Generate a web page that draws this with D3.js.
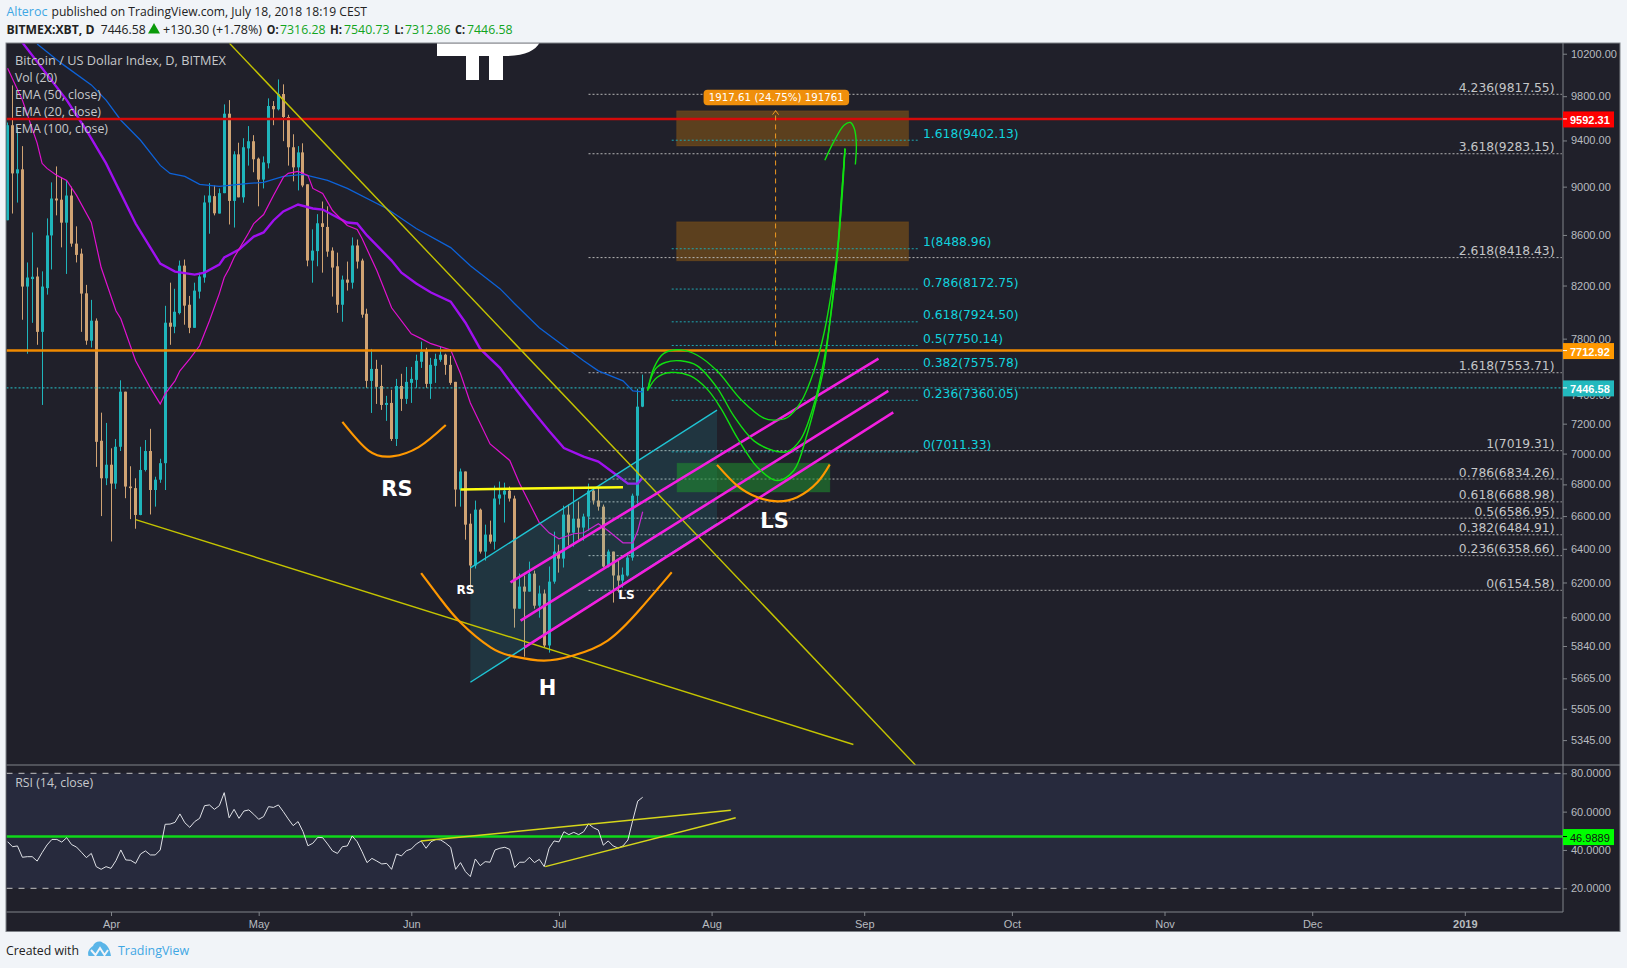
<!DOCTYPE html>
<html><head><meta charset="utf-8">
<script src="https://cdn.jsdelivr.net/npm/d3@7"></script>
<style>html,body{margin:0;padding:0;background:#f1f4f8;overflow:hidden}svg{display:block}</style>
</head><body><svg id="c" width="1627" height="968"></svg>
<script>
// ---- candles: daily, first bar 2018-03-11, indices run -21..108 relative to 2018-04-01
const firstDay = -21;
const open = [8720,9536,9113,9148,8192,8250,8270,7850,8180,8596,
8900,8890,8700,8925,8530,8450,8140,7785,7933,7085,
6839,6927,6805,7045,7420,6786,6776,6607,6893,7017,
6764,6830,6937,7918,7888,7990,8355,8053,7880,8153,
8262,8867,8920,8775,8945,9640,8880,9278,8910,9330,
9393,9240,9060,9200,9710,9680,9820,9610,9340,9165,
9295,9020,8395,8470,8695,8665,8474,8350,8053,8246,
8222,8515,8395,7985,7496,7581,7460,7328,7342,7097,
7460,7370,7482,7503,7632,7711,7475,7603,7646,7683,
7610,7489,6767,6883,6553,6300,6640,6383,6486,6443,
6710,6735,6760,6710,6049,6176,6147,6252,6066,6136,
5843,6205,6383,6341,6609,6498,6584,6529,6597,6760,
6697,6659,6294,6383,6241,6211,6241,6347,6728,7316.28];
const high = [9560,9900,9518,9350,8380,8620,8340,8310,8735,9036,
9173,9080,9053,9000,8670,8490,8205,8090,7950,7275,
7205,7035,7097,7500,7420,6917,6839,7045,7090,7165,
6849,6966,8045,8222,8175,8395,8403,8120,8222,8300,
8926,9030,9010,8985,9725,9764,9305,9380,9420,9528,
9447,9250,9260,9780,9755,9956,9910,9630,9455,9350,
9375,9020,8645,8770,8875,8835,8500,8458,8277,8387,
8580,8563,8410,8023,7725,7646,7610,7391,7433,7510,
7546,7595,7595,7683,7778,7733,7660,7690,7740,7690,
7675,7489,6902,6883,6615,6697,6647,6547,6572,6792,
6818,6811,6786,6728,6252,6241,6323,6270,6182,6159,
6294,6504,6425,6665,6672,6779,6691,6615,6805,6779,
6779,6672,6395,6383,6329,6288,6377,6741,7440,7540.73];
const low = [8720,8775,8866,7940,7690,7917,7755,7328,8130,8325,
8760,8500,8290,8505,8380,7850,7755,7735,6913,6600,
6795,6444,6771,7017,6712,6581,6522,6605,6883,6610,
6659,6810,6764,7755,7840,7980,7903,7840,7880,8100,
8222,8610,8760,8775,8945,8685,8660,8910,8865,9180,
9123,8835,8985,9156,9536,9670,9394,9180,9045,8968,
8995,8350,8222,8350,8300,8425,8115,7992,7925,8161,
8176,8332,7955,7447,7273,7335,7294,7219,7084,7050,
7287,7335,7342,7447,7588,7447,7370,7482,7632,7539,
7468,6659,6659,6455,6153,6282,6371,6329,6431,6395,
6672,6560,6691,5942,6049,5782,6147,6049,5998,5832,
5804,6193,6258,6288,6419,6413,6455,6449,6510,6672,
6634,6288,6288,6084,6142,6170,6235,6329,6678,7312.86];
const close = [9536,9113,9148,8192,8262,8268,7850,8192,8596,8900,
8884,8700,8925,8530,8440,8138,7785,7933,7078,6839,
6927,6805,7045,7420,6786,6776,6607,6893,7017,6764,
6830,6937,7918,7888,8000,8355,8046,7880,8161,8270,
8867,8925,8777,8945,9640,8880,9278,8910,9340,9393,
9235,9060,9208,9710,9680,9820,9610,9340,9165,9295,
9010,8395,8474,8695,8665,8466,8340,8053,8246,8222,
8515,8387,7978,7496,7581,7454,7328,7342,7097,7460,
7370,7489,7510,7639,7704,7475,7610,7653,7683,7610,
7482,6767,6883,6547,6300,6640,6383,6486,6443,6710,
6735,6760,6710,6049,6176,6147,6252,6066,6136,5843,
6205,6383,6341,6609,6498,6584,6529,6597,6760,6697,
6659,6294,6383,6241,6211,6246,6347,6728,7316.28,7446.58];

// ---- moving averages: [day since 2018-04-01, price]
const ema20 = [[-21,10062],[-18,9764],[-15,9376],[-14,9200],[-13,9156],[-11,9096],[-9,9053],[-7,8926],[-4,8702],[-2,8340],[1,8008],[2,7948],[5,7639],[8,7447],[10,7335],[11,7405],[13,7496],[14,7567],[16,7653],[18,7748],[20,7933],[22,8138],[23,8262],[24,8332],[25,8419],[28,8620],[29,8693],[31,8767],[33,8926],[35,9079],[36,9113],[38,9130],[40,9096],[41,8985],[43,8943],[45,8800],[48,8677],[50,8644],[51,8571],[54,8316],[57,8030],[61,7836],[63,7800],[65,7763],[69,7718],[71,7546],[73,7342],[77,7064],[81,6955],[83,6805],[87,6560],[89,6497],[91,6460],[94,6491],[96,6497],[99,6552],[101,6509],[104,6436],[106,6436],[107,6509],[108,6627]];
const ema50 = [[-18,10307],[-9,9764],[-5,9491],[-1,9199],[1,9027],[2,8943],[5,8693],[8,8498],[10,8371],[13,8308],[17,8285],[19,8300],[22,8363],[23,8419],[26,8482],[29,8587],[31,8620],[33,8718],[35,8792],[38,8850],[41,8817],[43,8808],[46,8742],[48,8701],[50,8693],[52,8596],[57,8395],[59,8300],[62,8215],[65,8146],[69,8077],[72,7918],[75,7725],[79,7589],[82,7447],[86,7273],[89,7151],[92,7037],[96,6980],[99,6948],[102,6876],[105,6805],[107,6805],[108,6844]];
const ema100 = [[-15,10293],[-10,10105],[-4,9905],[-1,9764],[2,9581],[6,9402],[10,9182],[12,9113],[15,9087],[18,9019],[22,9002],[28,9027],[31,9036],[35,9087],[39,9104],[44,9053],[48,8985],[56,8817],[62,8652],[69,8498],[73,8355],[79,8176],[82,8061],[87,7880],[96,7639],[99,7567],[104,7496],[106,7426],[108,7419]];

// ---- RSI, one value per candle
const rsi = [44.3,41.7,42.1,36.2,36.5,36.5,34.2,38.6,42.6,45.5,45.5,44.1,46.4,42.8,41.5,38.8,36.0,38.2,31.3,29.9,31.3,30.4,34.4,40.0,34.8,34.6,33.0,37.9,39.5,37.4,37.4,40.0,53.4,53.5,54.4,58.8,54.2,51.8,54.8,56.5,63.1,63.5,61.2,63.1,69.9,56.8,61.2,56.5,60.3,60.9,58.6,56.0,57.4,62.6,62.2,63.5,60.0,56.2,52.7,54.8,49.6,42.2,43.5,46.6,46.4,43.1,39.5,
38.2,41.7,42.1,47.3,44.3,39.1,33.4,35.6,34.2,32.7,33.0,29.9,37.9,36.9,39.6,40.5,43.1,44.7,40.9,44.3,45.5,45.2,43.5,41.4,29.9,33.4,28.7,26.1,35.3,31.8,33.9,33.6,40.0,40.9,41.4,40.3,30.8,33.6,33.6,36.2,33.4,35.1,31.3,40.9,44.7,44.2,49.5,48.0,49.2,48.0,49.5,53.6,51.6,50.4,42.5,44.7,42.1,41.0,42.1,45.2,55.6,65.5,67.5];
const rsiTrendA = [[62.95,44.7],[125.9,60.7]];
const rsiTrendB = [[88.2,31.3],[126.9,56.8]];

// ---- axis ticks
const priceTicks = [10200,9800,9400,9000,8600,8200,7800,7400,7200,7000,6800,6600,6400,6200,6000,5840,5665,5505,5345];
const rsiTicks = [80,60,40,20];
const monthTicks = [[2018,3,"Apr"],[2018,4,"May"],[2018,5,"Jun"],[2018,6,"Jul"],[2018,7,"Aug"],[2018,8,"Sep"],[2018,9,"Oct"],[2018,10,"Nov"],[2018,11,"Dec"],[2019,0,"2019"]];

// ---- horizontal levels
const lastPrice = 7446.58, redLevel = 9592.31, orangeLevel = 7712.92, rsiLevel = 46.9889;
const fibRight = [[4.236,"4.236",9817.55],[3.618,"3.618",9283.15],[2.618,"2.618",8418.43],[1.618,"1.618",7553.71],[1,"1",7019.31],[.786,"0.786",6834.26],[.618,"0.618",6688.98],[.5,"0.5",6586.95],[.382,"0.382",6484.91],[.236,"0.236",6358.66],[0,"0",6154.58]];
const fibLeft = [["1.618",9402.13],["1",8488.96],["0.786",8172.75],["0.618",7924.50],["0.5",7750.14],["0.382",7575.78],["0.236",7360.05],["0",7011.33]];

// ---- drawings in [day, price]
const trendDown = [[24.07,10300],[163.4,5221]];
const trendWedge = [[5,6578],[150.8,5323]];
const channelTop = [[73,6286],[123.1,7292]];
const channelBottom = [[73,5644],[123.1,6552]];
const magentaLines = [[[81.15,6201],[155.9,7654]],[[83.2,5981],[157.9,7426]],[[84,5833],[158.9,7277]]];
const neckline = [[71,6768],[104,6781]];
const greenZone = [115,146,6936,6752];
const orangeZones = [[114.9,162,9666,9351],[114.9,162,8707,8393]];
const arcRS = [[47,7212],[52.3,7020],[57.1,6982],[62.5,7043],[68,7191]];
const arcH = [[63,6255],[66.9,6107],[71,5971],[77.1,5833],[81.8,5783],[87.9,5760],[93.9,5788],[100.9,5870],[107.6,6050],[113.9,6260]];
const arcLS = [[123.1,6926],[127.2,6792],[131.3,6718],[135.3,6692],[139.4,6718],[143.5,6813],[146,6928]];
const pathA = [[109,7426],[110.3,7590],[112.3,7692],[115.7,7718],[119.1,7679],[123.1,7567],[127.9,7368],[132.6,7238],[134.6,7224],[137.4,7242],[140.1,7345],[142.8,7567],[144.8,7834],[146.5,8186],[147.8,8555],[148.5,8968],[149.1,9328]];
const pathB = [[109,7433],[110.6,7581],[112.6,7627],[115.7,7639],[119.1,7603],[123.1,7449],[126.5,7253],[130.6,7084],[134.6,7020],[137.4,7013],[140.1,7095],[142.8,7333],[144.8,7639],[146.6,8084],[147.8,8555],[148.6,8968],[149.1,9328]];
const pathC = [[109.2,7440],[110.9,7520],[113.6,7555],[117.7,7531],[121.1,7438],[123.8,7310],[127.2,7106],[131.3,6910],[135.3,6824],[138.7,6889],[141.4,7129],[143.4,7379],[144.8,7590],[146.4,8046],[147.4,8395],[148.4,8926],[149.1,9328]];
const pathHook = [[145,9226],[146.8,9387],[148.9,9536],[150.2,9560],[151,9505],[151.4,9369],[151.2,9190]];
const measure = {day:135, from:7750.14, to:9667.75, label:"1917.61 (24.75%) 191761"};
const patternLabels = [["RS",58.1,6768,21],["H",88.7,5616,21],["LS",134.8,6572,21],["RS",72,6159,12],["LS",104.7,6130,12]];

// ---- layout
const L=6.5,R=1563,T=43,SEP=765,AX=912,B=931.5,OUT=1620;
const apr1 = Date.UTC(2018,3,1);
const x = d3.scaleUtc().domain([new Date(apr1),new Date(Date.UTC(2019,0,1))]).range([111,1464.8]);
const xd = d => x(new Date(apr1 + d*864e5));
const y = d3.scaleLog().domain([9817.55,6154.58]).range([94.3,590.3]);
const yr = d3.scaleLinear().domain([80,20]).range([773.3,888.3]);

const svg = d3.select("#c");
const SANS = "'Open Sans','Noto Sans',sans-serif", ARIAL = "'Liberation Sans',Arial,sans-serif", VERD = "'DejaVu Sans',Verdana,sans-serif";
function txt(g,s,px,py,o={}){
  const t=g.append("text").attr("x",px).attr("y",py).text(s)
    .attr("font-family",o.f||SANS).attr("font-size",o.s||12).attr("fill",o.c||"#222")
    .attr("font-weight",o.w||400).attr("text-anchor",o.a||"start").attr("dominant-baseline","central");
  if(o.len) t.attr("textLength",o.len).attr("lengthAdjust","spacingAndGlyphs");
  return t;
}
svg.append("rect").attr("width",1627).attr("height",968).attr("fill","#f1f4f8");
// header
const head=svg.append("g");
txt(head,"Alteroc",6.4,11.5,{c:"#3fa7e4",len:41,s:12.5});
txt(head,"published on TradingView.com, July 18, 2018 18:19 CEST",51.5,11.5,{len:315.5,s:12.5});
txt(head,"BITMEX:XBT, D",6.4,29.5,{w:700,len:88,s:12.5});
txt(head,"7446.58",100.7,29.5,{len:45,s:12.5});
head.append("path").attr("d",d3.symbol(d3.symbolTriangle,62)()).attr("transform","translate(154,30)").attr("fill","#0a9a0a");
txt(head,"+130.30 (+1.78%)",163,29.5,{len:99,s:12.5});
[["O:",266.8,11.7,"7316.28",280],["H:",330,12,"7540.73",344],["L:",394.6,9,"7312.86",405],["C:",455,10,"7446.58",467]].forEach(a=>{
  txt(head,a[0],a[1],29.5,{w:700,len:a[2],s:12.5});
  txt(head,a[3],a[4],29.5,{c:"#12a51e",len:45.5,s:12.5});
});
// frame
svg.append("rect").attr("x",L-.5).attr("y",T).attr("width",OUT-L+.5).attr("height",B-T).attr("fill","#20202a").attr("stroke","#80848a").attr("stroke-width",1);
const defs=svg.append("defs");
defs.append("clipPath").attr("id","pp").append("rect").attr("x",L).attr("y",T+.5).attr("width",R-L).attr("height",SEP-T-.5);
defs.append("clipPath").attr("id","pr").append("rect").attr("x",L).attr("y",SEP).attr("width",R-L).attr("height",AX-SEP);

const price=svg.append("g").attr("clip-path","url(#pp)");
const line=d3.line().x(d=>xd(d[0])).y(d=>y(d[1]));
const smooth=d3.line().x(d=>xd(d[0])).y(d=>y(d[1])).curve(d3.curveCatmullRom.alpha(.5));
const arc=d3.line().x(d=>xd(d[0])).y(d=>y(d[1])).curve(d3.curveNatural);

// zones beneath everything
orangeZones.forEach(z=>price.append("rect").attr("x",xd(z[0])).attr("width",xd(z[1])-xd(z[0])).attr("y",y(z[2])).attr("height",y(z[3])-y(z[2])).attr("fill","#ff9800").attr("fill-opacity",.27).attr("stroke","#ff9800").attr("stroke-opacity",.12));
// watermark
price.append("path").attr("d","M437 42H540C536 50 526 56 505 56H503V80H489V56H479V80H466V56H437Z").attr("fill","#fff");

// fib levels
const fibW=price.append("g");
fibRight.forEach(f=>{
  fibW.append("line").attr("x1",xd(97)).attr("x2",xd(294.7)).attr("y1",y(f[2])).attr("y2",y(f[2])).attr("stroke","#b4b4b4").attr("stroke-width",1).attr("stroke-dasharray","2 2");
  txt(fibW,`${f[1]}(${f[2].toFixed(2)})`,1554.5,y(f[2])-6.5,{f:VERD,s:12.3,c:"#c4c6c8",a:"end"});
});
fibLeft.forEach(f=>{
  fibW.append("line").attr("x1",xd(113.9)).attr("x2",xd(164.2)).attr("y1",y(f[1])).attr("y2",y(f[1])).attr("stroke","#1ea5b0").attr("stroke-width",1).attr("stroke-dasharray","2 2");
  txt(fibW,`${f[0]}(${f[1].toFixed(2)})`,923,y(f[1])-6.5,{f:VERD,s:12.3,c:"#12d2de"});
});

// candles
const days=d3.range(open.length).map(i=>i+firstDay);
const TEAL="#1fb5bb",TAN="#d0a373";
const cg=price.append("g");
cg.selectAll("line").data(days).join("line").attr("x1",d=>Math.round(xd(d)-.5)+.5).attr("x2",d=>Math.round(xd(d)-.5)+.5)
  .attr("y1",(d,i)=>y(high[i])).attr("y2",(d,i)=>y(low[i])).attr("stroke",(d,i)=>close[i]>=open[i]?TEAL:TAN).attr("stroke-width",1);
cg.selectAll("rect").data(days).join("rect").attr("x",d=>Math.round(xd(d)-.5)-1).attr("width",3)
  .attr("y",(d,i)=>y(Math.max(open[i],close[i]))).attr("height",(d,i)=>Math.max(1,Math.abs(y(open[i])-y(close[i]))))
  .attr("fill",(d,i)=>close[i]>=open[i]?TEAL:TAN);

// averages
price.append("path").attr("d",line(ema100)).attr("fill","none").attr("stroke","#0d62d8").attr("stroke-width",1.3);
price.append("path").attr("d",line(ema50)).attr("fill","none").attr("stroke","#a010f0").attr("stroke-width",2.4);
price.append("path").attr("d",line(ema20)).attr("fill","none").attr("stroke","#e010d0").attr("stroke-width",1.2);

// horizontal levels
price.append("line").attr("x1",L).attr("x2",R).attr("y1",y(lastPrice)).attr("y2",y(lastPrice)).attr("stroke","#26c6cc").attr("stroke-dasharray","2 2");
price.append("line").attr("x1",L).attr("x2",R).attr("y1",y(redLevel)).attr("y2",y(redLevel)).attr("stroke","#d40a0a").attr("stroke-width",2.6);
price.append("line").attr("x1",L).attr("x2",R).attr("y1",y(orangeLevel)).attr("y2",y(orangeLevel)).attr("stroke","#f08a00").attr("stroke-width",2.6);

// channel, zones, lines
const area=[...channelTop,...channelBottom.slice().reverse()];
price.append("path").attr("d",line(area)+"Z").attr("fill","#26c6da").attr("fill-opacity",.13);
[channelTop,channelBottom].forEach(c=>price.append("path").attr("d",line(c)).attr("stroke","#1fc4d4").attr("stroke-width",1.4).attr("fill","none"));
price.append("rect").attr("x",xd(greenZone[0])).attr("width",xd(greenZone[1])-xd(greenZone[0])).attr("y",y(greenZone[2])).attr("height",y(greenZone[3])-y(greenZone[2])).attr("fill","#1f8f2e").attr("fill-opacity",.55).attr("stroke","#1f8f2e").attr("stroke-opacity",.3);
[trendDown,trendWedge].forEach(c=>price.append("path").attr("d",line(c)).attr("stroke","#c4c400").attr("stroke-width",1.4).attr("fill","none"));
magentaLines.forEach(c=>price.append("path").attr("d",line(c)).attr("stroke","#f31fe0").attr("stroke-width",2.6).attr("fill","none"));
price.append("path").attr("d",line(neckline)).attr("stroke","#ffff10").attr("stroke-width",2.5).attr("fill","none");
[arcRS,arcH,arcLS].forEach(c=>price.append("path").attr("d",arc(c)).attr("stroke","#ff9800").attr("stroke-width",2.2).attr("fill","none"));
[pathA,pathB,pathC,pathHook].forEach(c=>price.append("path").attr("d",smooth(c)).attr("stroke","#10e010").attr("stroke-width",1.4).attr("fill","none"));

// measure
const mx=xd(measure.day);
price.append("line").attr("x1",mx).attr("x2",mx).attr("y1",y(measure.from)).attr("y2",y(measure.to)).attr("stroke","#f09a20").attr("stroke-dasharray","5 4");
price.append("path").attr("d",d3.line()([[mx-3,y(measure.to)+4],[mx,y(measure.to)],[mx+3,y(measure.to)+4]])).attr("stroke","#f09a20").attr("fill","none");
price.append("rect").attr("x",mx-72).attr("y",y(measure.to)-21).attr("width",145.5).attr("height",15.5).attr("rx",4).attr("fill","#ef8f0c");
txt(price,measure.label,mx+.7,y(measure.to)-13,{f:VERD,s:10.8,c:"#fff",a:"middle",len:135});

// pattern labels
patternLabels.forEach(p=>txt(price,p[0],xd(p[1]),y(p[2]),{f:VERD,s:p[3],w:700,c:"#fff",a:"middle"}));

// legend
[["Bitcoin / US Dollar Index, D, BITMEX",60.5,211],["Vol (20)",77,42],["EMA (50, close)",94,86],["EMA (20, close)",111,86],["EMA (100, close)",128,93]].forEach(l=>
  txt(svg,l[0],15,l[1],{c:"#c6c8cb",s:12.5,len:l[2]}));

// RSI pane
const pr=svg.append("g").attr("clip-path","url(#pr)");
pr.append("rect").attr("x",L).attr("width",R-L).attr("y",yr(80)).attr("height",yr(20)-yr(80)).attr("fill","#272a3d");
[80,20].forEach(v=>pr.append("line").attr("x1",L).attr("x2",R).attr("y1",yr(v)).attr("y2",yr(v)).attr("stroke","#c4c4c4").attr("stroke-dasharray","6 6"));
pr.append("line").attr("x1",L).attr("x2",R).attr("y1",yr(rsiLevel)).attr("y2",yr(rsiLevel)).attr("stroke","#0fd81a").attr("stroke-width",2.6);
const rl=d3.line().x((d,i)=>xd(i+firstDay)).y(d=>yr(d));
pr.append("path").attr("d",rl(rsi)).attr("fill","none").attr("stroke","#dfe1e6").attr("stroke-width",1);
const rt=d3.line().x(d=>xd(d[0])).y(d=>yr(d[1]));
[rsiTrendA,rsiTrendB].forEach(c=>pr.append("path").attr("d",rt(c)).attr("stroke","#d6d61a").attr("stroke-width",1.5).attr("fill","none"));
txt(svg,"RSI (14, close)",15.2,782.7,{c:"#c6c8cb",s:12.5,len:78});

// axes + separators
const axisCol="#80848a";
svg.append("line").attr("x1",R).attr("x2",R).attr("y1",T).attr("y2",AX).attr("stroke",axisCol);
svg.append("line").attr("x1",L).attr("x2",OUT).attr("y1",SEP).attr("y2",SEP).attr("stroke",axisCol);
svg.append("line").attr("x1",L).attr("x2",R).attr("y1",AX).attr("y2",AX).attr("stroke",axisCol);
function styleAxis(g){
  g.select(".domain").remove();
  g.selectAll(".tick line").attr("stroke",axisCol);
  g.selectAll(".tick text").attr("fill","#b8bcc0").attr("font-family",ARIAL).attr("font-size",11);
}
const ay=svg.append("g").attr("transform",`translate(${R},0)`).call(d3.axisRight(y).tickValues(priceTicks).tickSize(4).tickPadding(4).tickFormat(d=>d.toFixed(2)));
styleAxis(ay);
const ar=svg.append("g").attr("transform",`translate(${R},0)`).call(d3.axisRight(yr).tickValues(rsiTicks).tickSize(4).tickPadding(4).tickFormat(d=>d.toFixed(4)));
styleAxis(ar);
const monthDates=monthTicks.map(m=>new Date(Date.UTC(m[0],m[1],1)));
const ax=svg.append("g").attr("transform",`translate(0,${AX})`).call(d3.axisBottom(x).tickValues(monthDates).tickSize(4).tickPadding(4).tickFormat((d,i)=>monthTicks[i][2]));
styleAxis(ax);
ax.selectAll(".tick text").filter((d,i)=>i===9).attr("font-weight",700);

// price badges
[[redLevel,"#ff0000","#fff",y],[orangeLevel,"#ff9800","#fff",y],[lastPrice,"#22b8bd","#fff",y]].forEach(b=>{
  const py=b[3](b[0]);
  svg.append("rect").attr("x",R).attr("y",py-7.5).attr("width",51).attr("height",16).attr("fill",b[1]);
  svg.append("line").attr("x1",R).attr("x2",R+4).attr("y1",py).attr("y2",py).attr("stroke","#fff");
  txt(svg,b[0].toFixed(2),R+7,py+1,{f:ARIAL,s:11,c:b[2],w:700});
});
{const py=yr(rsiLevel);
 svg.append("rect").attr("x",R).attr("y",py-7.5).attr("width",51).attr("height",16).attr("fill","#00ff00");
 svg.append("line").attr("x1",R).attr("x2",R+4).attr("y1",py).attr("y2",py).attr("stroke","#000");
 txt(svg,rsiLevel.toFixed(4),R+7,py+1,{f:ARIAL,s:11,c:"#111"});}

// footer
txt(svg,"Created with",6,950.5,{len:73,c:"#222",s:12.5});
svg.append("path").attr("d","M88.5 956C87 951 90 948 93 946C94 942 100 940 103 943C107 944 110 949 111 956Z").attr("fill","#5ab5e8");
svg.append("path").attr("d","M91 950L95.5 955L100 948L104.5 955L108 950").attr("fill","none").attr("stroke","#f1f4f8").attr("stroke-width",2);
txt(svg,"TradingView",118,950.5,{len:71,c:"#3fa7e4",s:12.5});
</script></body></html>
